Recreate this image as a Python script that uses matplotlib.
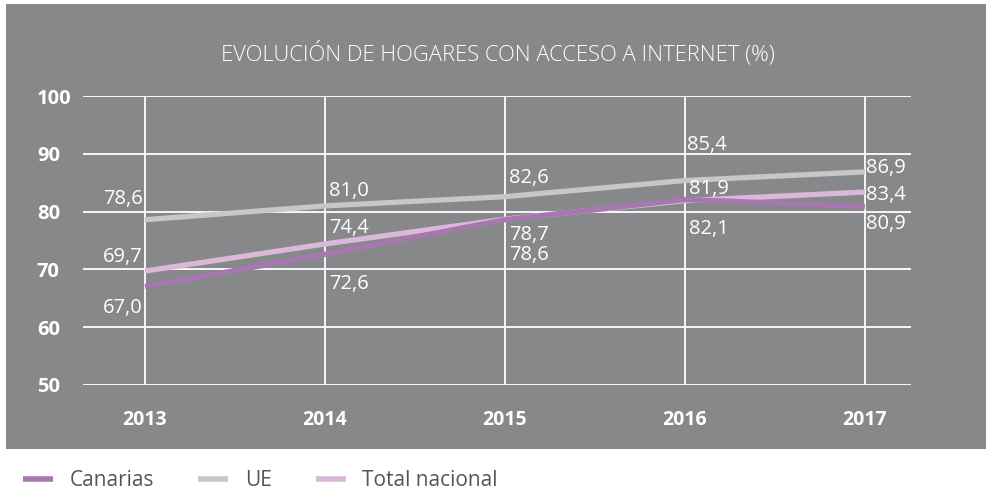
import matplotlib
matplotlib.use('Agg')
import matplotlib.pyplot as plt
from matplotlib.patches import Rectangle
from matplotlib.lines import Line2D

plt.rcParams['font.family'] = ['Open Sans', 'DejaVu Sans']

# data
years = [2013, 2014, 2015, 2016, 2017]
canarias = [67.0, 72.6, 78.6, 82.1, 80.9]
ue = [78.6, 81.0, 82.6, 85.4, 86.9]
total_nacional = [69.7, 74.4, 78.7, 81.9, 83.4]
series_names = ['Canarias', 'UE', 'Total nacional']
title = 'EVOLUCIÓN DE HOGARES CON ACCESO A INTERNET (%)'

# label offsets (pixels) from each point, as placed in the original
off_can = [(-2, -26), (4, -35), (4, -40), (4, -34), (1, -23)]
off_ue = [(-2, 16), (4, 10), (4, 14), (2, 31), (1, -1)]
off_tn = [(-2, 9), (4, 11), (4, -21), (4, 7), (1, -8)]

colors = {'Canarias': '#a778b0', 'UE': '#c7c7c9', 'Total nacional': '#d9b9d7'}
bg = '#87888a'

W, H = 987, 500
fig = plt.figure(figsize=(W / 100, H / 100), dpi=100)
fig.patches.append(Rectangle((6 / W, 1 - 449 / H), 1 - 6 / W, (449 - 4) / H,
                             transform=fig.transFigure, facecolor=bg,
                             edgecolor='none', zorder=-1))

ax = fig.add_axes([83 / W, 1 - 384.7 / H, (911 - 83) / W, (384.7 - 96.3) / H])
ax.set_zorder(2)
ax.set_facecolor('none')
ax.set_xlim(2012.656, 2017.256)
ax.set_ylim(50, 100)
ax.set_xticks(years)
ax.set_yticks([50, 60, 70, 80, 90, 100])
ax.grid(True, color='white', lw=1.3)
ax.set_axisbelow(True)
for s in ax.spines.values():
    s.set_visible(False)
ax.tick_params(length=0, labelcolor='white')
ax.tick_params(axis='y', pad=46 * 0.72, labelsize=14.5)
ax.tick_params(axis='x', pad=18, labelsize=14)
for t in ax.get_xticklabels():
    t.set_fontweight('bold')
for t in ax.get_yticklabels():
    t.set_fontweight('bold')
    t.set_horizontalalignment('left')

data = [(canarias, off_can, 'Canarias'), (ue, off_ue, 'UE'),
        (total_nacional, off_tn, 'Total nacional')]
for vals, offs, name in [data[1], data[2], data[0]]:
    ax.plot(years, vals, color=colors[name], lw=3.8, solid_capstyle='butt', zorder=3)
    for x, v, (dx, dy) in zip(years, vals, offs):
        ax.annotate(f'{v:.1f}'.replace('.', ','), (x, v), xytext=(dx, dy),
                    textcoords='offset pixels', ha='right' if dx < 0 else 'left',
                    va='baseline', color='white', fontsize=14.5, zorder=4)

fig.text(498 / W, 1 - 60 / H, title, ha='center', va='baseline',
         color='white', fontsize=15.8, fontweight='light')

handles = [Line2D([], [], color=colors[n], lw=4, solid_capstyle='butt') for n in series_names]
fig.legend(handles, series_names, loc='center left', bbox_to_anchor=(23 / W, 1 - 481 / H),
           ncol=3, frameon=False, fontsize=15, labelcolor='#555555', borderpad=0,
           borderaxespad=0, handlelength=1.45, handletextpad=0.8, columnspacing=2.1)

fig.savefig('out.png', dpi=100)
